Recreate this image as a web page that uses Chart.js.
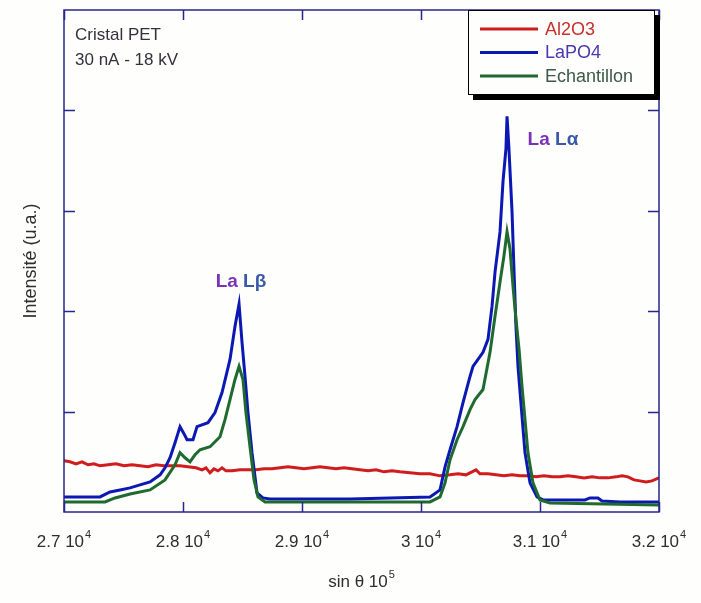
<!DOCTYPE html>
<html>
<head>
<meta charset="utf-8">
<script src="https://cdn.jsdelivr.net/npm/chart.js@4/dist/chart.umd.min.js"></script>
<style>
  html, body { margin: 0; padding: 0; background: #fefefc; }
  canvas { display: block; }
</style>
</head>
<body>
<canvas id="c" width="701" height="603"></canvas>
<script>
// ---------- data (x: sin θ ×10^5, y: intensity, arbitrary units) ----------
const seriesNames = ['Al2O3', 'LaPO4', 'Echantillon'];

const al2o3X = [27000,27050,27101,27151,27202,27252,27303,27370,27437,27504,
  27571,27639,27706,27773,27840,27908,27975,28042,28109,28160,
  28193,28227,28260,28294,28328,28361,28412,28479,28546,28613,
  28681,28748,28815,28882,28950,29017,29084,29151,29218,29286,
  29353,29420,29487,29555,29622,29689,29756,29824,29908,29991,
  30075,30160,30244,30311,30378,30429,30462,30496,30563,30630,
  30697,30765,30832,30899,30966,31034,31101,31168,31235,31302,
  31370,31437,31504,31571,31639,31689,31739,31790,31840,31891,
  31941,32000];
const al2o3Y = [510,500,480,500,470,480,460,470,480,460,
  470,460,450,470,460,460,460,450,440,420,
  440,390,430,410,440,410,410,420,420,420,
  430,430,440,450,440,430,440,450,440,430,
  440,430,420,410,420,400,410,400,390,380,
  380,360,370,380,370,400,420,380,380,370,
  360,370,360,360,350,360,350,350,360,350,
  340,350,340,340,350,360,350,320,310,300,
  310,340];

const lapo4X = [27000,27303,27387,27471,27555,27639,27723,27807,27849,27891,
  27933,27975,28008,28034,28084,28118,28210,28269,28328,28395,
  28437,28471,28496,28521,28546,28580,28622,28672,28731,29403,
  30076,30160,30202,30244,30303,30353,30412,30437,30521,30563,
  30597,30622,30664,30689,30714,30723,30739,30765,30782,30798,
  30815,30849,30874,30916,30975,31025,31378,31420,31487,31521,
  31672,32000];
const lapo4Y = [150,150,200,220,240,270,300,370,440,540,
  690,850,780,720,720,850,890,990,1190,1520,
  1850,2070,1690,1350,990,590,190,140,130,130,
  150,220,450,620,850,1090,1350,1450,1590,1720,
  2050,2390,2790,3290,3620,3940,3620,2990,2390,1850,
  1450,950,590,290,150,120,120,140,140,110,
  100,100];

const echX = [27000,27345,27429,27555,27723,27849,27933,27975,28017,28059,
  28101,28143,28227,28311,28353,28395,28437,28471,28504,28529,
  28563,28597,28630,28689,30076,30160,30202,30244,30303,30353,
  30412,30454,30521,30580,30622,30664,30697,30723,30748,30773,
  30798,30824,30849,30874,30899,30941,31000,31084,32000];
const echY = [100,100,140,180,220,320,470,590,540,500,
  570,620,650,750,920,1120,1320,1450,1320,990,
  650,320,150,100,100,150,290,520,720,850,
  1020,1120,1220,1590,1950,2290,2550,2790,2620,2250,
  1920,1620,1250,920,590,290,120,90,70];

const xTicks = [27000, 28000, 29000, 30000, 31000, 32000];
const xTickLabels = ['2.7 10', '2.8 10', '2.9 10', '3 10', '3.1 10', '3.2 10'];
const xTickExp = '4';
const yTicks = [1000, 2000, 3000, 4000];
const xTitle = 'sin θ 10';
const xTitleExp = '5';
const yTitle = 'Intensité (u.a.)';
const infoLines = ['Cristal PET', '30 nA - 18 kV'];
const peakLabels = [
  { text: ['La ', 'Lβ'], x: 28487, y: 2290 },
  { text: ['La ', 'Lα'], x: 31109, y: 3710 }
];

// ---------- styles ----------
const lineColors = ['#d01c1c', '#0c18b4', '#1f6a2e'];
const legendTextColors = ['#c8302a', '#4a38b0', '#3c5a48'];
const axisColor = '#26268c';
const FONT = '"Liberation Sans", Arial, sans-serif';

function pts(xs, ys) { return xs.map((x, i) => ({ x: x, y: ys[i] })); }

const datasets = [
  { label: seriesNames[0], data: pts(al2o3X, al2o3Y), borderColor: lineColors[0], order: 3 },
  { label: seriesNames[1], data: pts(lapo4X, lapo4Y), borderColor: lineColors[1], order: 2 },
  { label: seriesNames[2], data: pts(echX, echY), borderColor: lineColors[2], order: 1 }
].map(d => Object.assign(d, { borderWidth: 3, pointRadius: 0, tension: 0, fill: false, borderJoinStyle: 'miter' }));

const decor = {
  id: 'decor',
  beforeDraw(chart) {
    const ctx = chart.ctx;
    ctx.save();
    ctx.fillStyle = '#fefefc';
    ctx.fillRect(0, 0, chart.width, chart.height);
    ctx.restore();
  },
  afterDatasetsDraw(chart) {
    const ctx = chart.ctx;
    const xs = chart.scales.x, ys = chart.scales.y;
    const a = chart.chartArea;
    ctx.save();

    // frame
    ctx.strokeStyle = axisColor;
    ctx.lineWidth = 1.5;
    ctx.strokeRect(a.left, a.top, a.right - a.left, a.bottom - a.top);

    // inward ticks
    ctx.lineWidth = 1.5;
    ctx.beginPath();
    xTicks.forEach(v => {
      const px = Math.round(xs.getPixelForValue(v)) + 0.5;
      ctx.moveTo(px, a.bottom); ctx.lineTo(px, a.bottom - 10);
      ctx.moveTo(px, a.top); ctx.lineTo(px, a.top + 10);
    });
    yTicks.forEach(v => {
      const py = Math.round(ys.getPixelForValue(v)) + 0.5;
      ctx.moveTo(a.left, py); ctx.lineTo(a.left + 11, py);
      ctx.moveTo(a.right, py); ctx.lineTo(a.right - 11, py);
    });
    ctx.stroke();

    // x tick labels with superscript
    ctx.fillStyle = '#2e2e2e';
    ctx.textBaseline = 'alphabetic';
    ctx.textAlign = 'left';
    xTicks.forEach((v, i) => {
      const px = xs.getPixelForValue(v);
      ctx.font = '17px ' + FONT;
      const w1 = ctx.measureText(xTickLabels[i]).width;
      ctx.font = '11px ' + FONT;
      const w2 = ctx.measureText(xTickExp).width;
      const start = px - (w1 + w2 + 1) / 2;
      ctx.font = '17px ' + FONT;
      ctx.fillText(xTickLabels[i], start, 547);
      ctx.font = '11px ' + FONT;
      ctx.fillText(xTickExp, start + w1 + 1, 538);
    });

    // x title
    {
      const cx = (a.left + a.right) / 2;
      ctx.font = '17px ' + FONT;
      const w1 = ctx.measureText(xTitle).width;
      ctx.font = '11px ' + FONT;
      const w2 = ctx.measureText(xTitleExp).width;
      const start = cx - (w1 + w2 + 1) / 2;
      ctx.font = '17px ' + FONT;
      ctx.fillText(xTitle, start, 587);
      ctx.font = '11px ' + FONT;
      ctx.fillText(xTitleExp, start + w1 + 1, 578);
    }

    // y title
    ctx.save();
    ctx.translate(36, (a.top + a.bottom) / 2);
    ctx.rotate(-Math.PI / 2);
    ctx.textAlign = 'center';
    ctx.font = '18px ' + FONT;
    ctx.fillText(yTitle, 0, 0);
    ctx.restore();

    // info text
    ctx.font = '17px ' + FONT;
    ctx.fillStyle = '#35303c';
    ctx.textAlign = 'left';
    ctx.textBaseline = 'middle';
    ctx.fillText(infoLines[0], a.left + 11, 35);
    ctx.fillText(infoLines[1], a.left + 11, 60);

    // peak labels
    ctx.font = 'bold 19px ' + FONT;
    peakLabels.forEach(p => {
      const px = xs.getPixelForValue(p.x), py = ys.getPixelForValue(p.y);
      const w1 = ctx.measureText(p.text[0]).width;
      const w2 = ctx.measureText(p.text[1]).width;
      const start = px - (w1 + w2) / 2;
      ctx.fillStyle = '#7a32b8';
      ctx.fillText(p.text[0], start, py);
      ctx.fillStyle = '#3a5aa8';
      ctx.fillText(p.text[1], start + w1, py);
    });

    // legend box with shadow
    const lx = 468, ly = 10, lw = 187, lh = 85;
    ctx.fillStyle = '#000';
    ctx.fillRect(lx + 5, ly + 5, lw, lh);
    ctx.fillStyle = '#fefefc';
    ctx.fillRect(lx, ly, lw, lh);
    ctx.strokeStyle = '#000';
    ctx.lineWidth = 1;
    ctx.strokeRect(lx + 0.5, ly + 0.5, lw - 1, lh - 1);
    chart.data.datasets.forEach((d, i) => {
      const y = ly + 19 + i * 23.5;
      ctx.strokeStyle = d.borderColor;
      ctx.lineWidth = 3;
      ctx.beginPath();
      ctx.moveTo(lx + 12, y); ctx.lineTo(lx + 70, y);
      ctx.stroke();
      ctx.font = '18px ' + FONT;
      ctx.fillStyle = legendTextColors[i];
      ctx.fillText(d.label, lx + 77, y + 1);
    });

    ctx.restore();
  }
};

new Chart(document.getElementById('c'), {
  type: 'line',
  data: { datasets: datasets },
  options: {
    responsive: false,
    devicePixelRatio: 1,
    animation: false,
    parsing: true,
    layout: { padding: { left: 64, right: 42, top: 10, bottom: 91 } },
    plugins: { legend: { display: false }, tooltip: { enabled: false } },
    scales: {
      x: { type: 'linear', min: 27000, max: 32000, display: false },
      y: { type: 'linear', min: 0, max: 5000, display: false }
    }
  },
  plugins: [decor]
});
</script>
</body>
</html>
